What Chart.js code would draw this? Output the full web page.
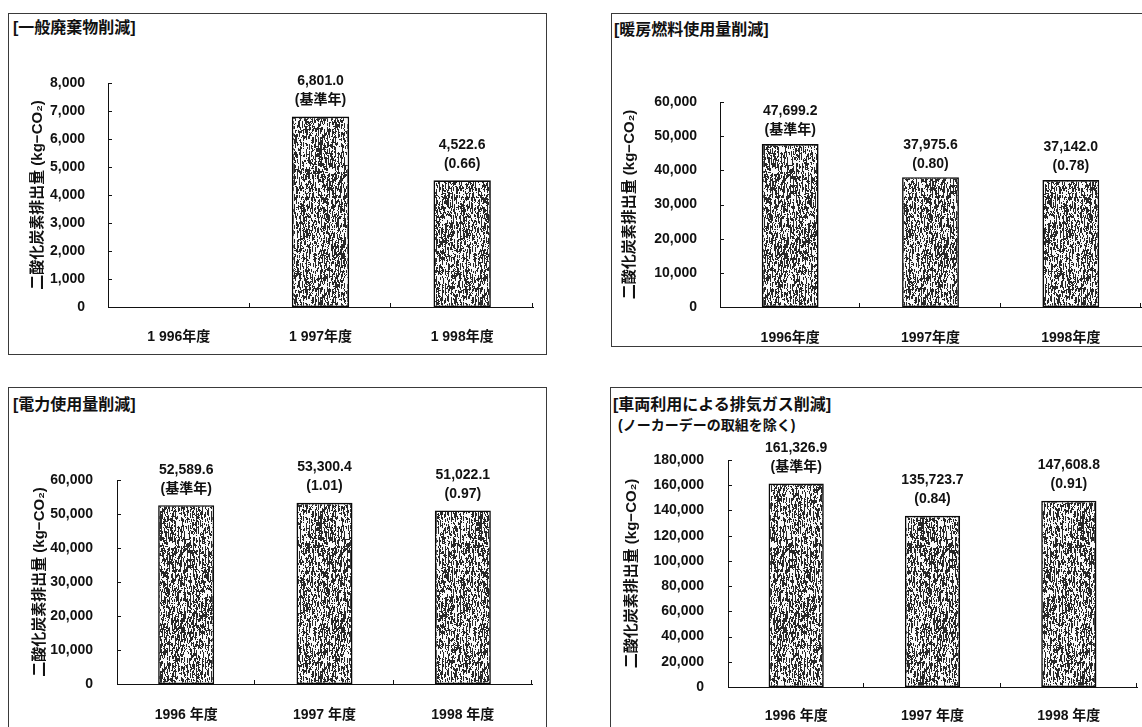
<!DOCTYPE html>
<html lang="ja">
<head>
<meta charset="utf-8">
<title>二酸化炭素排出量の推移</title>
<script src="https://cdn.jsdelivr.net/npm/chart.js@4.4.1/dist/chart.umd.min.js"></script>
<style>
  html, body { margin: 0; padding: 0; background: #fff; }
  body { width: 1142px; height: 727px; position: relative; overflow: hidden; }
  .box { position: absolute; border: 1px solid #3a3a3a; box-sizing: border-box; }
  .ttl { position: absolute; white-space: nowrap; color: #111;
         font-family: "Liberation Sans", "Noto Sans CJK JP", sans-serif; font-weight: 700; }
  canvas { position: absolute; }
</style>
</head>
<body>
<div class="box" style="left:8px;top:13px;width:539px;height:342px;"></div>
<div class="box" style="left:611px;top:13px;width:540px;height:334px;"></div>
<div class="box" style="left:8px;top:387px;width:539px;height:350px;"></div>
<div class="box" style="left:610px;top:387px;width:540px;height:350px;"></div>

<div class="ttl" style="left:13px;top:18px;font-size:16px;line-height:20px;">[一般廃棄物削減]</div>
<div class="ttl" style="left:614px;top:20px;font-size:16px;line-height:20px;">[暖房燃料使用量削減]</div>
<div class="ttl" style="left:13px;top:395px;font-size:16px;line-height:20px;">[電力使用量削減]</div>
<div class="ttl" style="left:613px;top:395px;font-size:16px;line-height:20px;">[車両利用による排気ガス削減]</div>
<div class="ttl" style="left:618px;top:416px;font-size:14px;line-height:18px;">(ノーカーデーの取組を除く)</div>

<canvas id="waste" width="536" height="339" style="left:9px;top:14px;"></canvas>
<canvas id="heating" width="530" height="330" style="left:612px;top:14px;"></canvas>
<canvas id="power" width="536" height="339" style="left:9px;top:388px;"></canvas>
<canvas id="vehicle" width="531" height="339" style="left:611px;top:388px;"></canvas>

<script>
// ---- data ----
const wasteYears   = ['1 996年度', '1 997年度', '1 998年度'];
const heatingYears = ['1996年度', '1997年度', '1998年度'];
const powerYears   = ['1996 年度', '1997 年度', '1998 年度'];
const vehicleYears = ['1996 年度', '1997 年度', '1998 年度'];

const wasteCO2   = [null, 6801.0, 4522.6];
const heatingCO2 = [47699.2, 37975.6, 37142.0];
const powerCO2   = [52589.6, 53300.4, 51022.1];
const vehicleCO2 = [161326.9, 135723.7, 147608.8];

const wasteRatio   = ['', '(基準年)', '(0.66)'];
const heatingRatio = ['(基準年)', '(0.80)', '(0.78)'];
const powerRatio   = ['(基準年)', '(1.01)', '(0.97)'];
const vehicleRatio = ['(基準年)', '(0.84)', '(0.91)'];

const wasteTicks   = [0, 1000, 2000, 3000, 4000, 5000, 6000, 7000, 8000];
const heatingTicks = [0, 10000, 20000, 30000, 40000, 50000, 60000];
const powerTicks   = [0, 10000, 20000, 30000, 40000, 50000, 60000];
const vehicleTicks = [0, 20000, 40000, 60000, 80000, 100000, 120000, 140000, 160000, 180000];

const yTitle = '二酸化炭素排出量 (kg−CO₂)';

// ---- styling helpers ----
const FONT = '"Liberation Sans", "Noto Sans CJK JP", sans-serif';
const INK = '#111';

// deterministic integer hash used for the bar grain
function hash(x, y) {
  let h = Math.imul(x, 374761393) + Math.imul(y, 668265263);
  h = Math.imul(h ^ (h >>> 13), 1274126177);
  h ^= h >>> 16;
  return (h >>> 0) / 4294967295;
}

// fine speckled fill with short vertical strokes, like a screened print
function grainTile() {
  const W = 80, H = 160;
  const c = document.createElement('canvas');
  c.width = W; c.height = H;
  const g = c.getContext('2d');
  const img = g.createImageData(W, H);
  for (let x = 0; x < W; x++) {
    const shift = Math.floor(hash(x, 7) * 3);
    const stroke = (x % 3 === 0);
    for (let y = 0; y < H; y++) {
      const run = Math.floor((y + shift) / 3);
      let dark = hash(x, run) < 0.36;
      if (stroke && hash(x + 500, Math.floor((y + shift) / 5)) < 0.55) dark = true;
      if (hash(x * 3 + 1, y * 5 + 2) < 0.08) dark = !dark;
      const v = dark ? 40 : 250;
      const i = (y * W + x) * 4;
      img.data[i] = img.data[i + 1] = img.data[i + 2] = v;
      img.data[i + 3] = 255;
    }
  }
  g.putImageData(img, 0, 0);
  return c;
}
const tile = grainTile();

// inward tick marks plus the two-line value labels over each bar
const decorations = {
  id: 'decorations',
  afterDatasetsDraw(chart, args, opts) {
    const ctx = chart.ctx;
    const xs = chart.scales.x, ys = chart.scales.y;
    ctx.save();
    ctx.strokeStyle = INK;
    ctx.lineWidth = 1;
    ys.ticks.forEach(t => {
      const py = Math.round(ys.getPixelForValue(t.value)) + 0.5;
      ctx.beginPath();
      ctx.moveTo(xs.left, py);
      ctx.lineTo(xs.left + 4, py);
      ctx.stroke();
    });
    const step = xs.getPixelForValue(1) - xs.getPixelForValue(0);
    for (let i = 0; i < chart.data.labels.length; i++) {
      const px = Math.round(xs.getPixelForValue(i) + step / 2) - 0.5;
      ctx.beginPath();
      ctx.moveTo(px, ys.bottom);
      ctx.lineTo(px, ys.bottom - 4);
      ctx.stroke();
    }
    const meta = chart.getDatasetMeta(0);
    const values = chart.data.datasets[0].data;
    ctx.fillStyle = INK;
    ctx.font = 'bold 14px ' + FONT;
    ctx.textAlign = 'center';
    ctx.textBaseline = 'middle';
    meta.data.forEach((bar, i) => {
      const v = values[i];
      if (v === null || v === undefined) return;
      const txt = v.toLocaleString('en-US', { minimumFractionDigits: 1, maximumFractionDigits: 1 });
      ctx.fillText(txt, bar.x, bar.y - opts.gap1);
      ctx.fillText(opts.ratios[i], bar.x, bar.y - opts.gap2);
    });
    ctx.restore();
  }
};

// area: plot rectangle in page pixels; box: canvas rectangle in page pixels
function panel(id, labels, values, ratios, ticks, box, area, titleX, yPad, xPad, gaps) {
  const canvas = document.getElementById(id);
  const ctx = canvas.getContext('2d');
  const fill = ctx.createPattern(tile, 'repeat');
  const titleSize = 15;
  const titleLine = titleSize * 1.2;
  const padLeft = (titleX - box.x) - titleLine / 2;
  const axisW = (area.L - box.x) - padLeft;
  const xh = 40;
  const padBottom = (box.y + box.h) - area.B - xh;
  return new Chart(ctx, {
    type: 'bar',
    data: {
      labels: labels,
      datasets: [{
        data: values,
        backgroundColor: fill,
        borderColor: '#0a0a0a',
        borderWidth: 1.6,
        borderSkipped: false,
        barPercentage: 0.405,
        categoryPercentage: 1.0
      }]
    },
    plugins: [decorations],
    options: {
      responsive: false,
      animation: false,
      devicePixelRatio: 1,
      layout: {
        padding: {
          left: padLeft,
          top: area.T - box.y,
          right: (box.x + box.w) - area.R,
          bottom: padBottom
        }
      },
      plugins: {
        legend: { display: false },
        tooltip: { enabled: false },
        decorations: { ratios: ratios, gap1: gaps[1], gap2: gaps[0] }
      },
      scales: {
        x: {
          grid: { display: false },
          border: { display: true, color: INK, width: 1 },
          ticks: { color: INK, padding: xPad, font: { family: FONT, size: 14, weight: 'bold' }, maxRotation: 0 },
          afterFit(s) { s.height = xh; }
        },
        y: {
          min: ticks[0],
          max: ticks[ticks.length - 1],
          afterBuildTicks(s) { s.ticks = ticks.map(v => ({ value: v })); },
          grid: { display: false },
          border: { display: true, color: INK, width: 1 },
          ticks: {
            color: INK,
            padding: yPad,
            font: { family: FONT, size: 14, weight: 'bold' },
            callback: v => Number(v).toLocaleString('en-US')
          },
          title: {
            display: true,
            text: yTitle,
            color: INK,
            padding: 0,
            font: { family: FONT, size: titleSize, weight: 'bold' }
          },
          afterFit(s) { s.width = axisW; }
        }
      }
    }
  });
}

panel('waste', wasteYears, wasteCO2, wasteRatio, wasteTicks,
  { x: 9, y: 14, w: 536, h: 339 }, { L: 108, T: 83, R: 533, B: 307 }, 38, 15, 14, [16.5, 35.5]);
panel('heating', heatingYears, heatingCO2, heatingRatio, heatingTicks,
  { x: 612, y: 14, w: 530, h: 330 }, { L: 720, T: 102, R: 1141, B: 307 }, 630, 15, 15, [13.5, 32.5]);
panel('power', powerYears, powerCO2, powerRatio, powerTicks,
  { x: 9, y: 388, w: 536, h: 339 }, { L: 117, T: 480, R: 532, B: 684 }, 40, 16, 15, [16.5, 35.5]);
panel('vehicle', vehicleYears, vehicleCO2, vehicleRatio, vehicleTicks,
  { x: 611, y: 388, w: 531, h: 339 }, { L: 728, T: 460, R: 1137, B: 687 }, 632, 16, 13, [16.5, 35.5]);
</script>
</body>
</html>
